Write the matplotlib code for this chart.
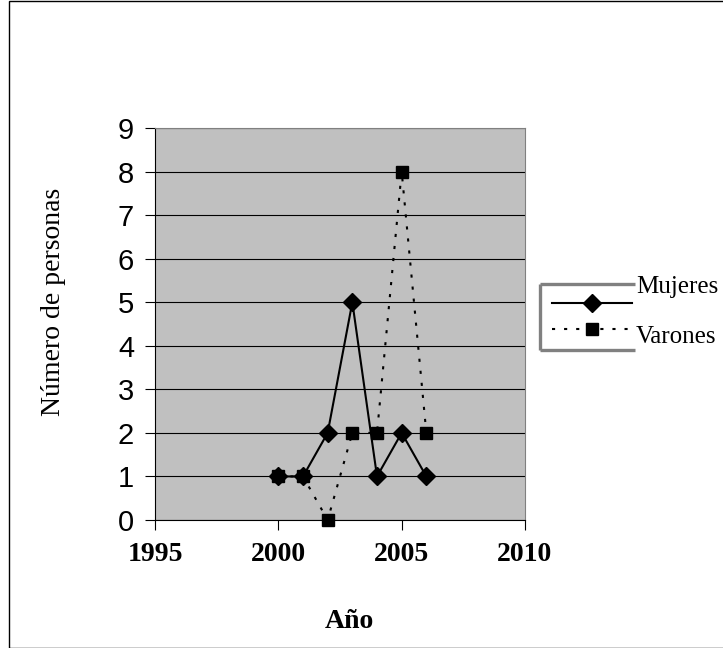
import matplotlib
matplotlib.use("Agg")
import matplotlib.pyplot as plt
from matplotlib.patches import Rectangle
from matplotlib.lines import Line2D

years = [2000, 2001, 2002, 2003, 2004, 2005, 2006]
mujeres = [1, 1, 2, 5, 1, 2, 1]
varones = [1, 1, 0, 2, 2, 8, 2]
xticks = [1995, 2000, 2005, 2010]
yticks = list(range(0, 10))

W, H = 723, 648
fig = plt.figure(figsize=(W / 100, H / 100), dpi=100)
fig.patch.set_facecolor("white")
fig.add_artist(Rectangle((9 / W, 0.5 / H), 1.0, 1 - 1 / H, transform=fig.transFigure,
                         fill=False, edgecolor="black", linewidth=1.0))

ax = fig.add_axes([155 / W, 1 - 520 / H, 370 / W, 392 / H])
ax.set_facecolor("#C0C0C0")
ax.set_xlim(1995, 2010)
ax.set_ylim(0, 9)
ax.set_axisbelow(True)
ax.yaxis.grid(True, color="black", linewidth=0.8)

dot = (0, (1.5, 4.3))
mstyle = dict(color="black", linewidth=1.5, clip_on=False)
ax.plot(years, mujeres, marker="D", markersize=9, zorder=3, **mstyle)
ax.plot(years, varones, linestyle=dot, marker="s", markersize=9, zorder=4, **mstyle)

ax.set_xticks(xticks)
ax.set_yticks(yticks)
ax.tick_params(axis="both", direction="out", length=7, color="black")
for lab in ax.get_xticklabels():
    lab.set_fontfamily("Liberation Serif")
    lab.set_fontweight("bold")
    lab.set_fontsize(20)
for lab in ax.get_yticklabels():
    lab.set_fontfamily("Liberation Sans")
    lab.set_fontsize(21)
ax.tick_params(axis="x", pad=8.5)
ax.tick_params(axis="y", pad=8)

for s in ["top", "right"]:
    ax.spines[s].set_color("#808080")
for s in ["left", "bottom"]:
    ax.spines[s].set_color("black")

fig.text(349 / W, 1 - 628 / H, "Año", fontfamily="Liberation Serif",
         fontweight="bold", fontsize=20, ha="center", va="baseline")
fig.text(53 / W, 1 - 302 / H, "Número de personas", fontfamily="Liberation Serif",
         fontsize=20, rotation=90, ha="center", va="center")

# legend (drawn in figure pixel coordinates)
def fx(x):
    return x / W

def fy(y):
    return 1 - y / H

gray = "#808080"
for xs, ys in [((540, 635), (284, 284)), ((540, 540), (284, 350)), ((540, 635), (350, 350))]:
    fig.add_artist(Line2D([fx(v) for v in xs], [fy(v) for v in ys], color=gray,
                          linewidth=2.4, transform=fig.transFigure, solid_capstyle="butt"))

fig.add_artist(Line2D([fx(552), fx(632)], [fy(303), fy(303)], color="black", linewidth=1.5,
                      transform=fig.transFigure))
fig.add_artist(Line2D([fx(592)], [fy(303)], color="black", marker="D", markersize=9,
                      linestyle="none", transform=fig.transFigure))
fig.add_artist(Line2D([fx(552), fx(632)], [fy(329), fy(329)], color="black", linewidth=1.5,
                      linestyle=dot, transform=fig.transFigure))
fig.add_artist(Line2D([fx(592)], [fy(329)], color="black", marker="s", markersize=9,
                      linestyle="none", transform=fig.transFigure))
fig.text(fx(636), fy(293), "Mujeres", fontfamily="Liberation Serif", fontsize=18,
         ha="left", va="baseline")
fig.text(fx(636), fy(343), "Varones", fontfamily="Liberation Serif", fontsize=18,
         ha="left", va="baseline")

fig.savefig("out.png", dpi=100)
